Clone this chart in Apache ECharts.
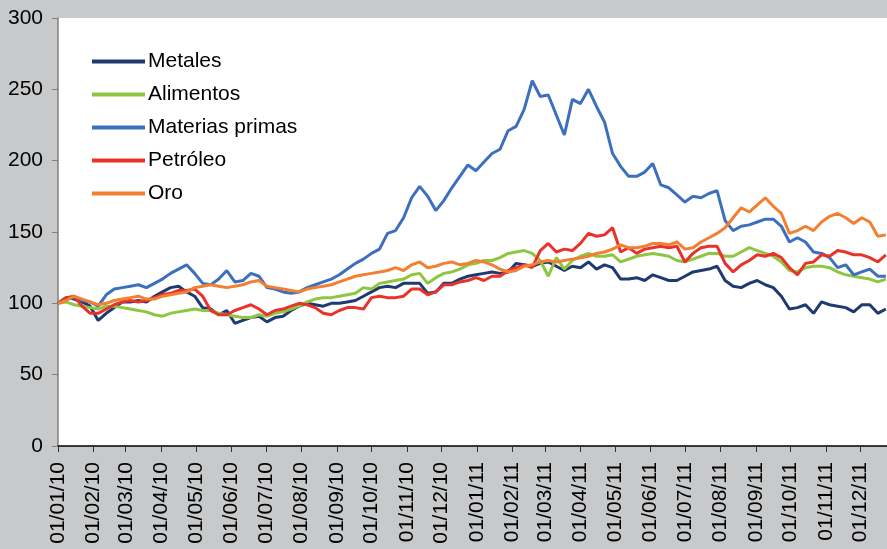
<!DOCTYPE html>
<html>
<head>
<meta charset="utf-8">
<script src="https://cdn.jsdelivr.net/npm/echarts@6/dist/echarts.min.js"></script>
<style>
  html, body { margin: 0; padding: 0; background: #c8c9cb; }
  #chart { width: 887px; height: 549px; }
</style>
</head>
<body>
<div id="chart"></div>
<script>
// weekly readings, first point 01/01/2010
const startYear = 2010;
const weekCount = 104;
const seriesNames = ["Metales", "Alimentos", "Materias primas", "Petróleo", "Oro"];
const seriesColors = ["#1f3a6e", "#8fc641", "#3c6fbe", "#e8322a", "#f37f32"];

const metales = [
  100, 104, 103, 101, 98, 88, 93, 97, 101, 101,
  102, 101, 105, 108, 111, 112, 108, 105, 97, 96,
  92, 95, 86, 88, 90, 91, 87, 90, 91, 95,
  98, 100, 99, 98, 100, 100, 101, 102, 105, 108,
  111, 112, 111, 114, 114, 114, 107, 108, 114, 114,
  117, 119, 120, 121, 122, 121, 122, 128, 127, 126,
  128, 129, 126, 123, 126, 125, 129, 124, 127, 125,
  117, 117, 118, 116, 120, 118, 116, 116, 119, 122,
  123, 124, 126, 116, 112, 111, 114, 116, 113, 111,
  105, 96, 97, 99, 93, 101, 99, 98, 97, 94,
  99, 99, 93, 96
];
const alimentos = [
  100, 101, 99, 98, 97, 96, 98, 98, 97, 96,
  95, 94, 92, 91, 93, 94, 95, 96, 95, 95,
  93, 92, 91, 90, 90, 92, 91, 93, 94, 96,
  98, 101, 103, 104, 104, 105, 106, 107, 111, 110,
  114, 115, 116, 117, 120, 121, 114, 118, 121, 122,
  124, 127, 128, 130, 130, 132, 135, 136, 137, 135,
  130, 119, 132, 124, 130, 133, 135, 133, 133, 134,
  129, 131, 133, 134, 135, 134, 133, 130, 129, 131,
  133, 135, 135, 133, 133, 136, 139, 137, 135, 133,
  129, 123, 122, 125, 126, 126, 125, 122, 120, 119,
  118, 117, 115, 117
];
const materias = [
  100, 103, 104, 102, 101, 98, 106, 110, 111, 112,
  113, 111, 114, 117, 121, 124, 127, 121, 114, 113,
  117, 123, 115, 116, 121, 119, 111, 110, 108, 107,
  108, 111, 113, 115, 117, 120, 124, 128, 131, 135,
  138, 149, 151, 160, 174, 182, 175, 165, 172, 181,
  189, 197, 193, 199, 205, 208, 221, 224, 236, 256,
  245, 246, 232, 218, 243, 240, 250, 238, 227, 205,
  196, 189, 189, 192, 198, 183, 181, 176, 171, 175,
  174, 177, 179, 158, 151, 154, 155, 157, 159, 159,
  154, 143, 146, 143, 136, 135, 132, 125, 127, 120,
  122, 124, 119, 119
];
const petroleo = [
  100, 104, 105, 98, 93, 93, 96, 99, 101, 102,
  101, 102, 104, 106, 107, 109, 109, 110, 105, 95,
  92, 92, 95, 97, 99, 96, 92, 95, 96, 98,
  100, 99, 97, 93, 92, 95, 97, 97, 96, 104,
  105, 104, 104, 105, 110, 110, 106, 108, 113, 113,
  115, 116, 118, 116, 119, 119, 123, 125, 127, 125,
  137, 142, 136, 138, 137, 142, 149, 147, 148, 153,
  136, 139, 135, 138, 139, 140, 139, 140, 129, 135,
  139, 140, 140, 128, 122, 127, 130, 134, 133, 135,
  132, 125, 120, 128, 129, 134, 133, 137, 136, 134,
  134, 132, 129, 134
];
const oro = [
  100, 102, 105, 103, 101, 99, 100, 102, 103, 104,
  105, 103, 103, 105, 106, 107, 108, 111, 112, 113,
  112, 111, 112, 113, 115, 116, 112, 111, 110, 109,
  108, 110, 111, 112, 113, 115, 117, 119, 120, 121,
  122, 123, 125, 123, 127, 129, 125, 126, 128, 129,
  127, 128, 130, 129, 127, 124, 122, 123, 126, 127,
  129, 130, 129, 130, 131, 132, 133, 135, 136, 138,
  141, 139, 139, 140, 142, 142, 141, 143, 138, 139,
  143, 146, 149, 153, 160, 167, 164, 169, 174, 168,
  163, 149, 151, 154, 151, 157, 161, 163, 160, 156,
  160, 157, 147, 148
];

const seriesValues = [metales, alimentos, materias, petroleo, oro];

// x is counted in days from 01/01/2010
const DAY = 24 * 3600 * 1000;
const t0 = Date.UTC(startYear, 0, 1);
const dayOffsets = [];
for (let k = 0; k < weekCount; k++) dayOffsets.push(7 * k);

const monthTicks = [];
for (let m = 0; m < 24; m++) monthTicks.push(Math.round((Date.UTC(startYear, m, 1) - t0) / DAY));

const pad = (n) => (n < 10 ? "0" + n : "" + n);
const fmtDay = (v) => {
  const d = new Date(t0 + v * DAY);
  return pad(d.getUTCDate()) + "/" + pad(d.getUTCMonth() + 1) + "/" + pad(d.getUTCFullYear() % 100);
};

const font = "Liberation Sans, Arial, sans-serif";
const chart = echarts.init(document.getElementById("chart"));

chart.setOption({
  animation: false,
  backgroundColor: "#c8c9cb",
  grid: { left: 58, top: 18, right: 0, bottom: 103, show: true, backgroundColor: "#ffffff", borderWidth: 0 },
  legend: {
    orient: "vertical",
    left: 87,
    top: 46,
    itemWidth: 53,
    itemHeight: 4,
    itemGap: 12,
    icon: "rect",
    textStyle: { fontFamily: font, fontSize: 21, color: "#000", padding: [0, 0, 0, -2] },
    data: seriesNames
  },
  xAxis: {
    type: "value",
    min: 0,
    max: 722,
    axisLine: { lineStyle: { color: "#000", width: 1.5 } },
    axisTick: { length: 6, lineStyle: { color: "#333" }, customValues: monthTicks },
    axisLabel: {
      customValues: monthTicks,
      rotate: 90,
      margin: 16,
      fontFamily: font,
      fontSize: 21,
      color: "#000",
      formatter: fmtDay
    },
    splitLine: { show: false }
  },
  yAxis: {
    type: "value",
    min: 0,
    max: 300,
    interval: 50,
    axisLine: { show: true, lineStyle: { color: "#808080", width: 1.5 } },
    axisTick: { show: true, length: 6, lineStyle: { color: "#808080" } },
    axisLabel: { margin: 15, fontFamily: font, fontSize: 21, color: "#000" },
    splitLine: { show: false }
  },
  series: seriesNames.map((name, i) => ({
    name: name,
    type: "line",
    showSymbol: false,
    color: seriesColors[i],
    lineStyle: { width: 3, color: seriesColors[i] },
    data: seriesValues[i].map((v, k) => [dayOffsets[k], v])
  }))
});
</script>
</body>
</html>
